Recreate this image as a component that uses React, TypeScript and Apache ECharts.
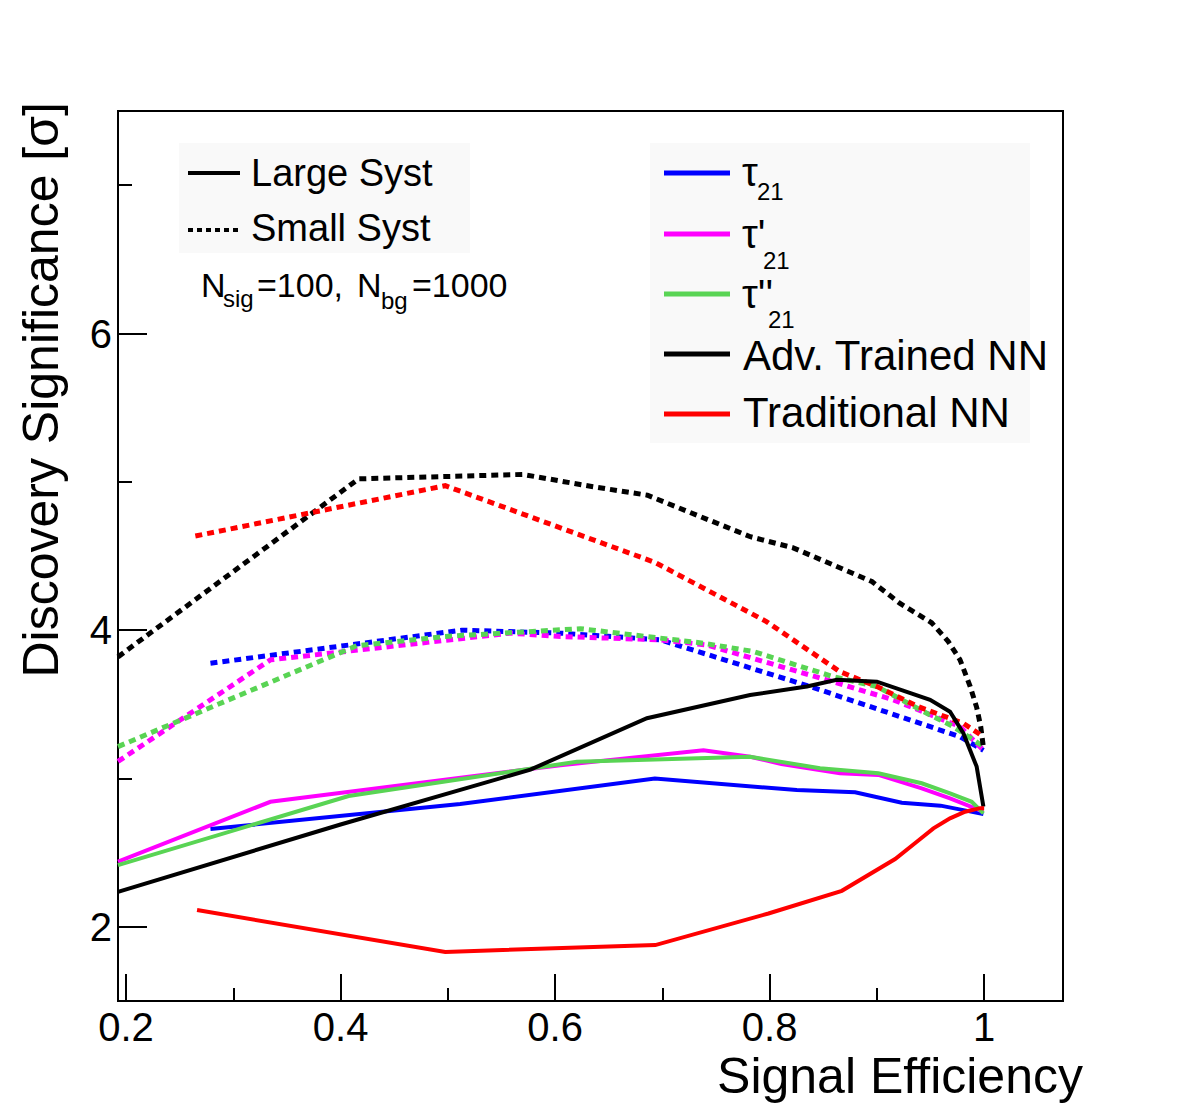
import React, { useEffect, useRef } from "react";
import * as echarts from "echarts";

const FONT = "'Liberation Sans', Arial, Helvetica, sans-serif";

// Axis ticks / labels
const xMajorTicks = [0.2, 0.4, 0.6, 0.8, 1.0];
const xMinorTicks = [0.3, 0.5, 0.7, 0.9];
const yMajorTicks = [2, 4, 6];
const yMinorTicks = [3, 5, 7];

// Large Syst (solid)
const tauLargeX = [0.2787, 0.5115, 0.693, 0.8253, 0.8797, 0.9232, 0.9594, 0.9806, 0.9993];
const tauLargeY = [2.66, 2.828, 3.0, 2.922, 2.907, 2.837, 2.817, 2.787, 2.76];

const tauPLargeX = [0.1925, 0.3346, 0.605, 0.7383, 0.7818, 0.811, 0.8656, 0.9014, 0.9418, 0.9682, 0.9993];
const tauPLargeY = [2.44, 2.843, 3.09, 3.19, 3.147, 3.098, 3.035, 3.024, 2.934, 2.866, 2.776];

const tauPPLargeX = [0.1925, 0.4075, 0.6203, 0.7818, 0.847, 0.9014, 0.9418, 0.9682, 0.9884, 0.9993];
const tauPPLargeY = [2.416, 2.882, 3.113, 3.147, 3.069, 3.035, 2.968, 2.9, 2.843, 2.765];

const advLargeX = [0.1925, 0.4, 0.577, 0.6856, 0.7818, 0.8347, 0.8626, 0.9, 0.9496, 0.9682, 0.9806, 0.993, 0.9993];
const advLargeY = [2.236, 2.69, 3.06, 3.406, 3.563, 3.62, 3.665, 3.653, 3.53, 3.45, 3.305, 3.08, 2.81];

const tradLargeX = [0.2662, 0.4976, 0.6934, 0.7989, 0.8673, 0.917, 0.9372, 0.9527, 0.9682, 0.9822, 0.9962, 1.0];
const tradLargeY = [2.113, 1.831, 1.877, 2.09, 2.243, 2.457, 2.574, 2.664, 2.731, 2.776, 2.8, 2.8];

// Small Syst (dotted)
const tauSmallX = [0.2787, 0.513, 0.5675, 0.605, 0.698, 0.8377, 0.9775, 0.9993];
const tauSmallY = [3.777, 4.0, 3.988, 3.98, 3.935, 3.62, 3.282, 3.19];

const tauPSmallX = [0.1925, 0.3346, 0.558, 0.605, 0.698, 0.7415, 0.853, 0.9154, 0.9775, 0.9993];
const tauPSmallY = [3.115, 3.8, 3.98, 3.957, 3.935, 3.9, 3.665, 3.53, 3.35, 3.19];

const tauPPSmallX = [0.1925, 0.415, 0.496, 0.6235, 0.7383, 0.785, 0.859, 0.9, 0.9465, 0.9713, 0.9993];
const tauPPSmallY = [3.215, 3.895, 3.957, 4.01, 3.912, 3.856, 3.687, 3.62, 3.44, 3.35, 3.215];

const advSmallX = [0.1925, 0.4168, 0.57, 0.6328, 0.686, 0.782, 0.822, 0.8953, 0.9216, 0.951, 0.9666, 0.9775, 0.987, 0.993, 0.9968, 0.9993];
const advSmallY = [3.82, 5.02, 5.05, 4.97, 4.91, 4.63, 4.555, 4.328, 4.18, 4.05, 3.923, 3.8, 3.62, 3.48, 3.35, 3.21];

const tradSmallX = [0.2646, 0.4976, 0.6934, 0.797, 0.8655, 0.9, 0.9386, 0.9806, 0.9993];
const tradSmallY = [4.635, 4.974, 4.456, 4.058, 3.72, 3.62, 3.484, 3.372, 3.282];

const BLUE = "#0000ff";
const MAGENTA = "#ff00ff";
const GREEN = "#59d454";
const BLACK = "#000000";
const RED = "#ff0000";

const zip = (xs: number[], ys: number[]) => xs.map((x, i) => [x, ys[i]]);

const curves = [
  { name: "tauSmall", x: tauSmallX, y: tauSmallY, color: BLUE, dotted: true },
  { name: "tauPSmall", x: tauPSmallX, y: tauPSmallY, color: MAGENTA, dotted: true },
  { name: "tauPPSmall", x: tauPPSmallX, y: tauPPSmallY, color: GREEN, dotted: true },
  { name: "advSmall", x: advSmallX, y: advSmallY, color: BLACK, dotted: true },
  { name: "tradSmall", x: tradSmallX, y: tradSmallY, color: RED, dotted: true },
  { name: "tauLarge", x: tauLargeX, y: tauLargeY, color: BLUE, dotted: false },
  { name: "tauPLarge", x: tauPLargeX, y: tauPLargeY, color: MAGENTA, dotted: false },
  { name: "tauPPLarge", x: tauPPLargeX, y: tauPPLargeY, color: GREEN, dotted: false },
  { name: "advLarge", x: advLargeX, y: advLargeY, color: BLACK, dotted: false },
  { name: "tradLarge", x: tradLargeX, y: tradLargeY, color: RED, dotted: false },
];

function txt(text: string, x: number, y: number, size: number, align = "left", extra: any = {}) {
  return {
    type: "text",
    x,
    y,
    z: 100,
    ...extra,
    style: {
      text,
      fontSize: size,
      fontFamily: FONT,
      fill: "#000",
      align,
      textAlign: align,
      verticalAlign: "middle",
      textVerticalAlign: "middle",
    },
  };
}

function seg(x1: number, x2: number, y: number, color: string, width: number, dash?: number[]) {
  return {
    type: "line",
    z: 100,
    shape: { x1, y1: y, x2, y2: y },
    style: { stroke: color, lineWidth: width, lineDash: dash || null },
  };
}

export default function App() {
  const ref = useRef<HTMLDivElement>(null);
  useEffect(() => {
    if (!ref.current) return;
    const chart = echarts.init(ref.current, undefined, { renderer: "svg" });
    const xMin = 0.1925;
    const xMax = 1.0735;
    const yMin = 1.5;
    const yMax = 7.5;
    const tickStyle = { color: "#000", width: 2 };
    const option: any = {
      animation: false,
      backgroundColor: "#fff",
      grid: {
        left: 118,
        top: 111,
        right: 119,
        bottom: 112,
        show: true,
        borderColor: "#000",
        borderWidth: 2,
        backgroundColor: "transparent",
      },
      xAxis: [
        {
          type: "value",
          min: xMin,
          max: xMax,
          position: "bottom",
          axisLine: { show: true, onZero: false, lineStyle: { color: "#000", width: 2 } },
          axisTick: { show: true, inside: true, length: 27, customValues: xMajorTicks, lineStyle: tickStyle },
          axisLabel: {
            customValues: xMajorTicks,
            formatter: (v: number) => (Math.abs(v - 1) < 1e-9 ? "1" : v.toFixed(1)),
            fontSize: 40,
            fontFamily: FONT,
            color: "#000",
            margin: 6,
          },
          splitLine: { show: false },
        },
        {
          type: "value",
          min: xMin,
          max: xMax,
          position: "bottom",
          axisLine: { show: false, onZero: false },
          axisTick: { show: true, inside: true, length: 13, customValues: xMinorTicks, lineStyle: tickStyle },
          axisLabel: { show: false },
          splitLine: { show: false },
        },
      ],
      yAxis: [
        {
          type: "value",
          min: yMin,
          max: yMax,
          position: "left",
          axisLine: { show: true, onZero: false, lineStyle: { color: "#000", width: 2 } },
          axisTick: { show: true, inside: true, length: 29, customValues: yMajorTicks, lineStyle: tickStyle },
          axisLabel: {
            customValues: yMajorTicks,
            fontSize: 40,
            fontFamily: FONT,
            color: "#000",
            margin: 6,
          },
          splitLine: { show: false },
        },
        {
          type: "value",
          min: yMin,
          max: yMax,
          position: "left",
          axisLine: { show: false, onZero: false },
          axisTick: { show: true, inside: true, length: 14, customValues: yMinorTicks, lineStyle: tickStyle },
          axisLabel: { show: false },
          splitLine: { show: false },
        },
      ],
      series: curves.map((c) => ({
        type: "line",
        name: c.name,
        xAxisIndex: 0,
        yAxisIndex: 0,
        data: zip(c.x, c.y),
        symbol: "none",
        clip: true,
        lineStyle: {
          color: c.color,
          width: c.dotted ? 5 : 4,
          type: c.dotted ? [7, 5] : "solid",
          cap: "butt",
          join: "miter",
        },
        z: c.dotted ? 2 : 3,
      })),
      graphic: [
        // left legend
        { type: "rect", z: 90, shape: { x: 179, y: 143, width: 291, height: 110 }, style: { fill: "#f9f9f9" } },
        seg(188, 240, 173, BLACK, 4),
        seg(188, 240, 230, BLACK, 4, [5, 4]),
        txt("Large Syst", 251, 173, 38),
        txt("Small Syst", 251, 228, 38),
        // N_sig / N_bg annotation
        txt("N", 201, 285, 34),
        txt("sig", 223, 298, 24),
        txt("=100,", 257, 285, 34),
        txt("N", 357, 285, 34),
        txt("bg", 381, 300, 24),
        txt("=1000", 412, 285, 34),
        // right legend
        { type: "rect", z: 90, shape: { x: 650, y: 143, width: 380, height: 300 }, style: { fill: "#f9f9f9" } },
        seg(664, 730, 173, BLUE, 5),
        seg(664, 730, 234, MAGENTA, 5),
        seg(664, 730, 294, GREEN, 5),
        seg(664, 730, 354, BLACK, 5),
        seg(664, 730, 414, RED, 5),
        txt("τ", 742, 172, 40),
        txt("21", 757, 191, 24),
        txt("τ'", 742, 234, 40),
        txt("21", 763, 260, 24),
        txt("τ''", 742, 294, 40),
        txt("21", 768, 319, 24),
        txt("Adv. Trained NN", 743, 355, 42),
        txt("Traditional NN", 743, 412, 42),
        // axis titles
        txt("Signal Efficiency", 1083, 1076, 50, "right"),
        txt("Discovery Significance [σ]", 41, 102, 50, "right", { rotation: Math.PI / 2 }),
      ],
    };
    chart.setOption(option);
    return () => chart.dispose();
  }, []);
  return (
    <div
      ref={ref}
      style={{ position: "fixed", left: 0, top: 0, width: 1182, height: 1113, background: "#fff" }}
    />
  );
}
